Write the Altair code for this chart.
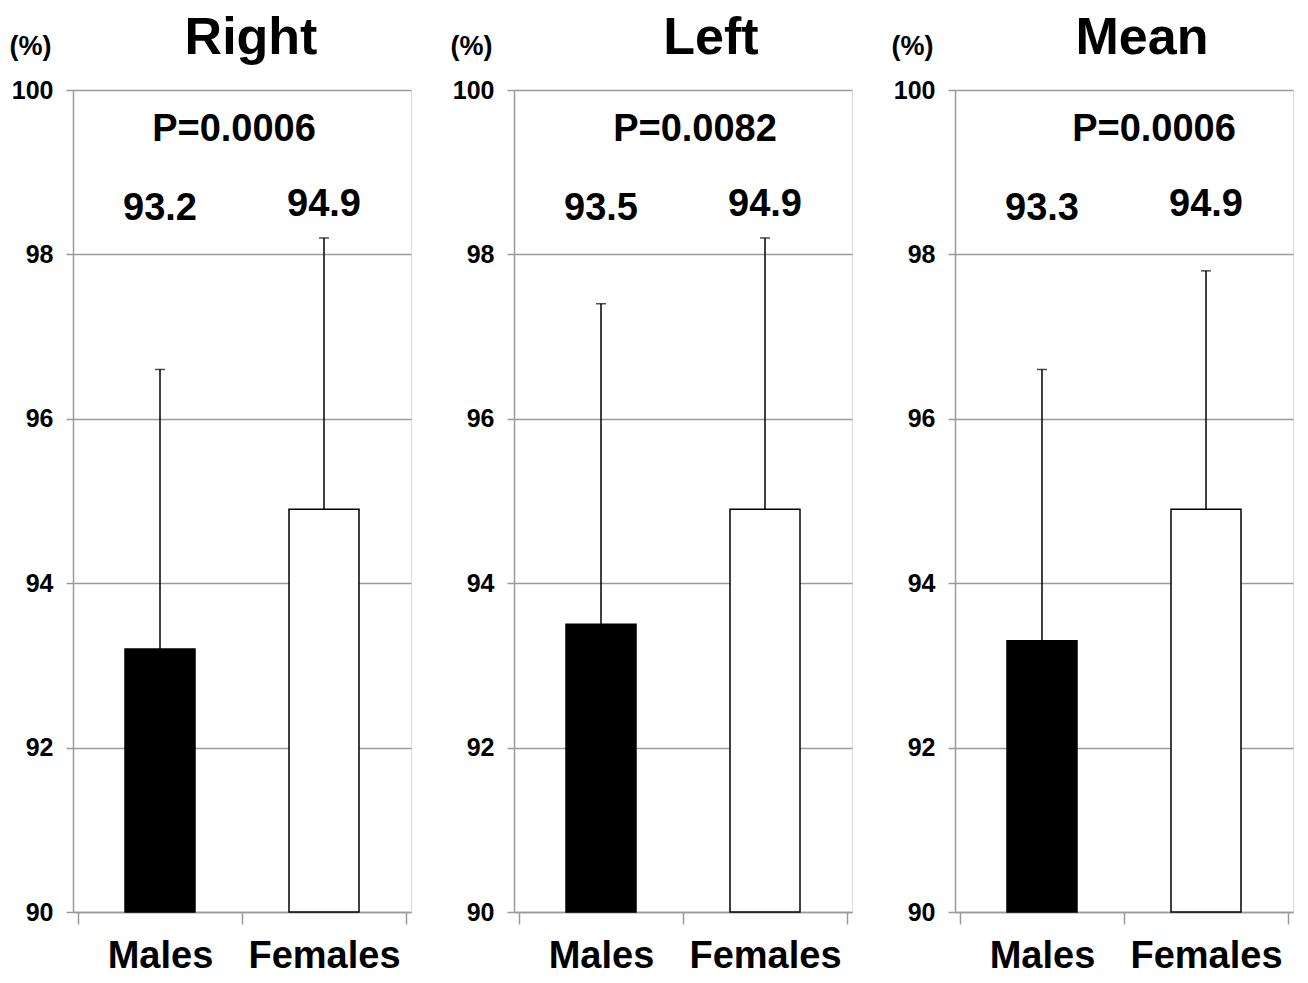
import altair as alt
import pandas as pd

panels = ["Right", "Left", "Mean"]
p_values = ["P=0.0006", "P=0.0082", "P=0.0006"]
groups = ["Males", "Females"]
means = {"Right": [93.2, 94.9], "Left": [93.5, 94.9], "Mean": [93.3, 94.9]}
upper = {"Right": [96.6, 98.2], "Left": [97.4, 98.2], "Mean": [96.6, 97.8]}
y_ticks = [90, 92, 94, 96, 98, 100]

FONT = "Liberation Sans"
W, H = 338, 822
GRAY = "#9a9a9a"
p_x = [161, 181, 199]
title_dx = [9, 28, 18]


def panel(i):
    name = panels[i]
    df = pd.DataFrame({
        "group": groups,
        "pos": [k + 0.5 for k in range(len(groups))],
        "mean": means[name],
        "upper": upper[name],
        "label": [f"{v:.1f}" for v in means[name]],
    })
    label_expr = "datum.value == 0.5 ? 'Males' : (datum.value == 1.5 ? 'Females' : '')"
    x = alt.X(
        "pos:Q",
        scale=alt.Scale(domain=[0, 2], nice=False, zero=False),
        axis=alt.Axis(
            values=[0, 0.5, 1, 1.5, 2], labelExpr=label_expr, title=None, grid=False,
            tickSize=12, tickColor=GRAY, tickWidth=1.5,
            tickOpacity={"condition": {"test": "datum.value % 1 === 0", "value": 1}, "value": 0},
            domainColor=GRAY, domainWidth=1.5, labelFont=FONT, labelFontSize=38,
            labelFontWeight="bold", labelColor="black", labelPadding=13, labelOverlap=False,
            labelBound=False, labelFlush=False,
        ),
    )
    y = alt.Y(
        "mean:Q",
        scale=alt.Scale(domain=[90, 100], nice=False, zero=False),
        axis=alt.Axis(
            values=y_ticks, format="d", title="(%)", titleAngle=0, titleAlign="left",
            titleBaseline="alphabetic", titleX=-64, titleY=-36, titleFont=FONT, titleFontSize=27,
            titleFontWeight="bold", titleColor="black", labelFont=FONT, labelFontSize=25,
            labelFontWeight="bold", labelColor="black", labelPadding=13, tickSize=7,
            tickColor=GRAY, tickWidth=1.5, domainColor=GRAY, domainWidth=1.5,
            gridColor=GRAY, gridWidth=1.5,
        ),
    )
    base = alt.Chart(df)
    bars = base.mark_bar(size=70, stroke="black", strokeWidth=1.5).encode(
        x=x, y=y, y2=alt.datum(90),
        color=alt.Color("group:N", scale=alt.Scale(domain=groups, range=["black", "white"]), legend=None),
    )
    rule = base.mark_rule(color="black", strokeWidth=1.5).encode(x="pos:Q", y="mean:Q", y2="upper:Q")
    cap = base.mark_tick(orient="horizontal", size=10, thickness=1.5, color="black").encode(
        x="pos:Q", y="upper:Q")
    lab_m = base.transform_filter("datum.group == 'Males'").mark_text(
        font=FONT, fontSize=38, fontWeight="bold", color="black", baseline="alphabetic"
    ).encode(x="pos:Q", y=alt.value(130), text="label:N")
    lab_f = base.transform_filter("datum.group == 'Females'").mark_text(
        font=FONT, fontSize=38, fontWeight="bold", color="black", baseline="alphabetic"
    ).encode(x="pos:Q", y=alt.value(126), text="label:N")
    ptxt = alt.Chart(pd.DataFrame({"p": [p_values[i]]})).mark_text(
        font=FONT, fontSize=38, fontWeight="bold", color="black", baseline="alphabetic"
    ).encode(x=alt.value(p_x[i]), y=alt.value(51), text="p:N")
    return alt.layer(bars, rule, cap, lab_m, lab_f, ptxt).properties(
        width=W, height=H,
        title=alt.TitleParams(name, font=FONT, fontSize=52, fontWeight="bold", color="black",
                              anchor="middle", frame="group", dx=title_dx[i], offset=-33),
    )


chart = alt.hconcat(*[panel(i) for i in range(3)], spacing=37).configure_view(stroke=None).configure(
    background="white").properties(padding={"left": 0, "top": 3, "right": 0, "bottom": 0})
chart.save("out.html", embed_options={"renderer": "svg", "actions": False})
